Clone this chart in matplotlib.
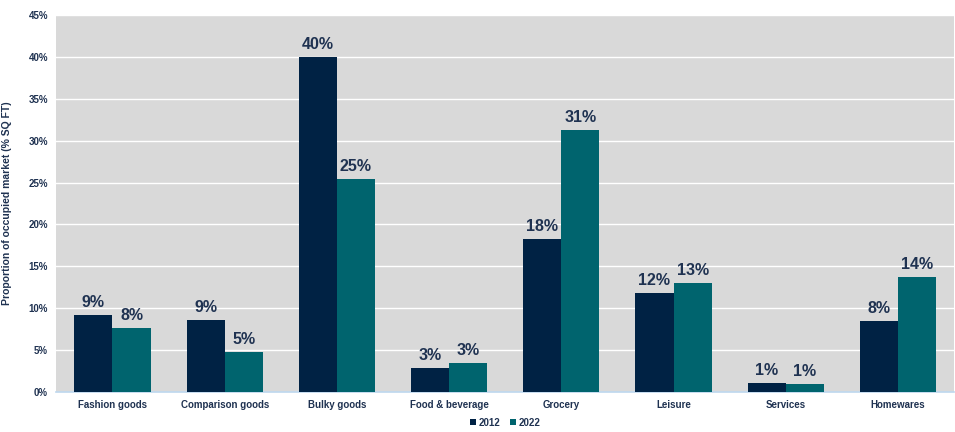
import matplotlib
matplotlib.use("Agg")
import matplotlib.pyplot as plt
import numpy as np

# Data
categories = ["Fashion goods", "Comparison goods", "Bulky goods", "Food & beverage",
              "Grocery", "Leisure", "Services", "Homewares"]
share_2012 = [9.2, 8.6, 40.0, 2.9, 18.3, 11.8, 1.07, 8.5]
share_2022 = [7.6, 4.8, 25.4, 3.4, 31.3, 13.0, 0.95, 13.7]
series_names = ["2012", "2022"]

C_2012 = "#002244"
C_2022 = "#00646e"
TXT = "#1f3251"
plt.rcParams["font.family"] = ["Liberation Sans", "DejaVu Sans"]

fig = plt.figure(figsize=(9.55, 4.32), dpi=100)
ax = fig.add_axes([0.059, 0.093, 0.94, 0.872])
ax.set_facecolor("#d9d9d9")

x = np.arange(len(categories))
w = 0.34
b1 = ax.bar(x - w / 2, share_2012, w, color=C_2012, label=series_names[0], zorder=3)
b2 = ax.bar(x + w / 2, share_2022, w, color=C_2022, label=series_names[1], zorder=3)

for bars in (b1, b2):
    for rect in bars:
        v = rect.get_height()
        ax.text(rect.get_x() + rect.get_width() / 2, v + 0.6, f"{round(v):.0f}%",
                ha="center", va="bottom", fontsize=11.5, fontweight="bold", color=TXT)

ax.set_xlim(-0.5, len(categories) - 0.5)
ax.set_ylim(0, 45)
ax.set_yticks(np.arange(0, 46, 5))
ax.set_yticklabels([f"{t}%" for t in range(0, 46, 5)])
ax.set_xticks(x)
ax.set_xticklabels(categories)
ax.yaxis.grid(True, color="white", lw=1.0, zorder=0)
ax.set_axisbelow(True)
for s in ["top", "right", "left"]:
    ax.spines[s].set_visible(False)
ax.spines["bottom"].set_color("#bdd7ee")
ax.spines["bottom"].set_linewidth(1.2)
ax.tick_params(axis="both", length=0, labelsize=7, labelcolor=TXT, pad=6)
for lbl in ax.get_xticklabels() + ax.get_yticklabels():
    lbl.set_fontweight("bold")

ax.set_ylabel("Proportion of occupied market (% SQ FT)", fontsize=7.5, fontweight="bold",
              color=TXT)
ax.yaxis.set_label_coords(-0.049, 0.5)

leg = ax.legend(loc="center", bbox_to_anchor=(0.5, -0.082), ncol=2, frameon=False,
                fontsize=7, handlelength=0.6, handleheight=0.6, handletextpad=0.3,
                columnspacing=1.0)
for t in leg.get_texts():
    t.set_fontweight("bold")
    t.set_color(TXT)

fig.savefig("out.png", dpi=100)
